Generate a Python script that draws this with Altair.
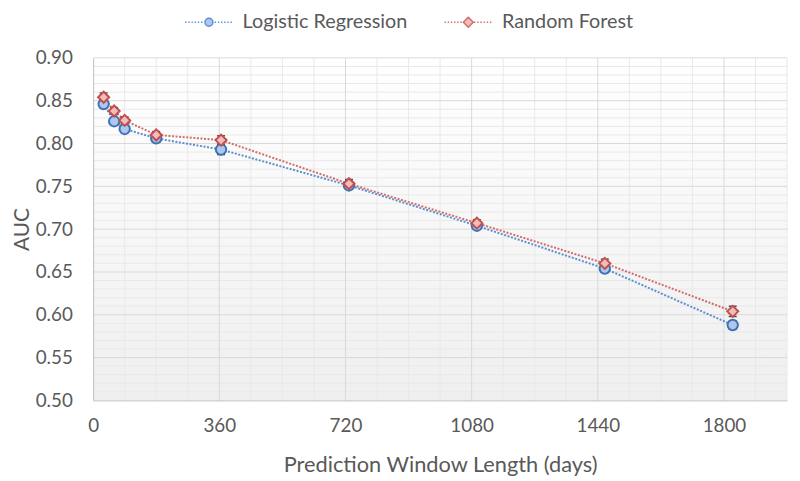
import altair as alt
import pandas as pd

# ---------------- data ----------------
DAYS = [30, 60, 90, 180, 365, 730, 1095, 1460, 1825]
LR_AUC = [0.846, 0.826, 0.817, 0.806, 0.793, 0.751, 0.704, 0.654, 0.588]
RF_AUC = [0.854, 0.838, 0.827, 0.810, 0.804, 0.753, 0.707, 0.660, 0.604]
LR_ERR = [0.004, 0.004, 0.004, 0.004, 0.006, 0.004, 0.004, 0.004, 0.005]
RF_ERR = [0.005, 0.004, 0.004, 0.004, 0.005, 0.005, 0.004, 0.005, 0.006]
MODELS = ["Logistic Regression", "Random Forest"]

X_TICKS = [0, 360, 720, 1080, 1440, 1800]
Y_TICKS = [0.50, 0.55, 0.60, 0.65, 0.70, 0.75, 0.80, 0.85, 0.90]
X_MINOR = [90, 180, 270, 450, 540, 630, 810, 900, 990, 1170, 1260, 1350,
           1530, 1620, 1710, 1890, 1980]
Y_MINOR = [v / 100 for v in range(51, 90) if v % 5 != 0]

X_DOMAIN = [0, 1980]
Y_DOMAIN = [0.5, 0.9]

# ---------------- styles ----------------
W, H = 701, 346
TEXT = "#595959"
FONT = "Lato"
LINE_COL = {"Logistic Regression": "#5b8fcf", "Random Forest": "#cf6e6b"}
FILL_COL = {"Logistic Regression": "#adc8ee", "Random Forest": "#f3bcba"}
STROKE_COL = {"Logistic Regression": "#3f72b5", "Random Forest": "#c0504d"}
SHAPE = {"Logistic Regression": "circle", "Random Forest": "diamond"}


def legend_path(kind):
    parts = []
    x = -6.0
    while x < -1.35:
        parts.append(f"M{x:.2f},0h0.35")
        x += 0.8
    x = 1.45
    while x < 6.0:
        parts.append(f"M{x:.2f},0h0.35")
        x += 0.8
    if kind == "circle":
        parts.append("M-1,0A1,1,0,1,0,1,0A1,1,0,1,0,-1,0Z")
    else:
        parts.append("M0,-1.25L1.25,0L0,1.25L-1.25,0Z")
    return "".join(parts)


df = pd.DataFrame({
    "model": [MODELS[0]] * len(DAYS) + [MODELS[1]] * len(DAYS),
    "days": DAYS + DAYS,
    "auc": LR_AUC + RF_AUC,
    "err": LR_ERR + RF_ERR,
})

xscale = alt.Scale(domain=X_DOMAIN, nice=False, zero=False)
yscale = alt.Scale(domain=Y_DOMAIN, nice=False, zero=False)

xaxis = alt.Axis(values=X_TICKS, format="d", grid=False, ticks=False,
                 domainColor="#bfbfbf", labelFont=FONT, labelFontSize=19,
                 labelColor=TEXT, labelPadding=16, labelFlush=False,
                 title="Prediction Window Length (days)", titleFont=FONT,
                 titleFontSize=22, titleFontWeight="normal", titleColor=TEXT,
                 titlePadding=20, zindex=1)
yaxis = alt.Axis(values=Y_TICKS, format=".2f", grid=False, ticks=False,
                 domainColor="#bfbfbf", labelFont=FONT, labelFontSize=19,
                 labelColor=TEXT, labelPadding=21, title="AUC", titleFont=FONT,
                 titleFontSize=21, titleFontWeight="normal", titleColor=TEXT,
                 titlePadding=3, zindex=1)


def X(field):
    return alt.X(field, scale=xscale, axis=xaxis)


def Y(field):
    return alt.Y(field, scale=yscale, axis=yaxis)


gradient = alt.LinearGradient(
    gradient="linear",
    stops=[alt.GradientStop(color="#ffffff", offset=0),
           alt.GradientStop(color="#efefef", offset=1)],
    x1=0, x2=0, y1=0, y2=1,
)

bg_df = pd.DataFrame({"x0": [X_DOMAIN[0]], "x1": [X_DOMAIN[1]],
                      "y0": [Y_DOMAIN[0]], "y1": [Y_DOMAIN[1]]})
bg = alt.Chart(bg_df).mark_rect(color=gradient).encode(
    x=X("x0:Q"), x2="x1:Q", y=Y("y0:Q"), y2="y1:Q",
)

minor_x = alt.Chart(pd.DataFrame({"v": X_MINOR})).mark_rule(
    color="#e9e9e9", strokeWidth=1).encode(x=X("v:Q"))
minor_y = alt.Chart(pd.DataFrame({"v": Y_MINOR})).mark_rule(
    color="#e9e9e9", strokeWidth=1).encode(y=Y("v:Q"))
major_x = alt.Chart(pd.DataFrame({"v": X_TICKS[1:]})).mark_rule(
    color="#d9d9d9", strokeWidth=1).encode(x=X("v:Q"))
major_y = alt.Chart(pd.DataFrame({"v": Y_TICKS[1:]})).mark_rule(
    color="#d9d9d9", strokeWidth=1).encode(y=Y("v:Q"))

layers = [bg, minor_x, minor_y, major_x, major_y]

base = alt.Chart(df)
for m in MODELS:
    layers.append(
        base.transform_filter(alt.datum.model == m).mark_line(
            strokeDash=[2, 1.6], strokeWidth=2, color=LINE_COL[m]
        ).encode(x=X("days:Q"), y=Y("auc:Q"))
    )

for m in MODELS:
    eb = base.transform_filter(alt.datum.model == m).transform_calculate(
        lo="datum.auc - datum.err", hi="datum.auc + datum.err")
    layers.append(eb.mark_rule(color="#404040", strokeWidth=1.2).encode(
        x=X("days:Q"), y=Y("lo:Q"), y2="hi:Q"))
    layers.append(eb.mark_tick(orient="horizontal", size=8, thickness=1.4,
                               color="#404040", opacity=1).encode(
        x=X("days:Q"), y=Y("hi:Q")))
    layers.append(eb.mark_tick(orient="horizontal", size=8, thickness=1.4,
                               color="#404040", opacity=1).encode(
        x=X("days:Q"), y=Y("lo:Q")))

for m in MODELS:
    layers.append(
        base.transform_filter(alt.datum.model == m).mark_point(
            shape=SHAPE[m], filled=True, size=110 if m == MODELS[0] else 125,
            fill=FILL_COL[m], stroke=STROKE_COL[m], strokeWidth=2, opacity=1
        ).encode(x=X("days:Q"), y=Y("auc:Q"))
    )

legend_layer = base.transform_filter("false").mark_point(
    filled=True, strokeWidth=1.5, opacity=1
).encode(
    fill=alt.Fill("model:N", scale=alt.Scale(domain=MODELS,
                  range=[FILL_COL[m] for m in MODELS]), legend=alt.Legend(title=None)),
    stroke=alt.Stroke("model:N", scale=alt.Scale(domain=MODELS,
                      range=[LINE_COL[m] for m in MODELS]), legend=alt.Legend(title=None)),
    shape=alt.Shape("model:N", scale=alt.Scale(domain=MODELS,
                    range=[legend_path("circle"), legend_path("diamond")]),
                    legend=alt.Legend(title=None)),
)
layers.append(legend_layer)

chart = alt.layer(*layers).properties(
    width=W, height=H,
    autosize=alt.AutoSizeParams(type="none"),
    padding={"left": 86, "top": 48, "right": 5, "bottom": 75},
).configure_view(strokeWidth=0).configure_legend(
    orient="none", legendX=107, legendY=-46, direction="horizontal",
    labelFont=FONT, labelFontSize=20, labelColor=TEXT, labelOffset=24,
    labelLimit=400, symbolSize=64, symbolStrokeWidth=1.5, columnPadding=34,
    padding=0,
)

chart.save("out.html", embed_options={"renderer": "svg", "actions": False})
